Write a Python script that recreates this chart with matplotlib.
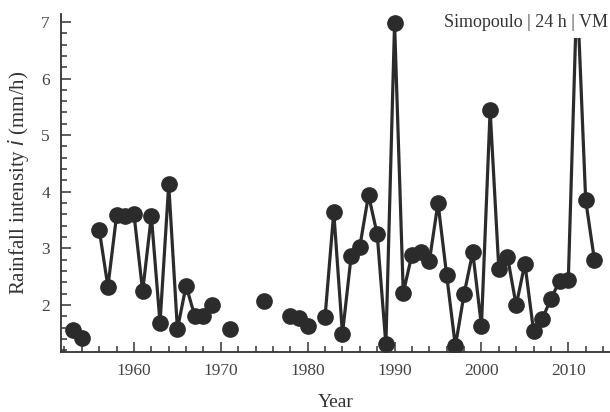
import matplotlib
matplotlib.use("Agg")
import matplotlib.pyplot as plt
import numpy as np

plt.rcParams['font.family'] = ['Liberation Serif', 'DejaVu Serif']

# annual maximum 24 h rainfall intensity, NaN = missing year
years = np.arange(1953, 2014)
intensity = [
    1.55, 1.42, np.nan, 3.33, 2.32, 3.58, 3.57, 3.60, 2.24, 3.57,   # 1953-1962
    1.68, 4.13, 1.57, 2.34, 1.80, 1.80, 1.99, np.nan, 1.57, np.nan,  # 1963-1972
    np.nan, np.nan, 2.06, np.nan, np.nan, 1.81, 1.76, 1.62, np.nan, 1.79,  # 1973-1982
    3.64, 1.49, 2.86, 3.03, 3.94, 3.25, 1.30, 6.98, 2.21, 2.89,     # 1983-1992
    2.94, 2.77, 3.80, 2.52, 1.27, 2.19, 2.93, 1.63, 5.44, 2.64,     # 1993-2002
    2.85, 1.99, 2.73, 1.54, 1.75, 2.11, 2.42, 2.44, 7.60, 3.85,     # 2003-2012
    2.80,                                                           # 2013
]
label = "Simopoulo | 24 h | VM"

fig = plt.figure(figsize=(6.1, 4.12), dpi=100)
ax = fig.add_axes([0.1, 0.146, 0.9, 0.82])

ax.plot(years, intensity, '-o', color='#2b2b2b', lw=2.3, ms=11,
        clip_on=True, zorder=2)

ax.set_xlim(1951.6, 2014.8)
ax.set_ylim(1.17, 7.14)
ax.set_xticks([1960, 1970, 1980, 1990, 2000, 2010])
ax.set_xticks(np.arange(1952, 2015, 2), minor=True)
ax.set_yticks([2, 3, 4, 5, 6, 7])
ax.set_yticks(np.arange(1.2, 7.15, 0.2), minor=True)

for s in ['top', 'right']:
    ax.spines[s].set_visible(False)
for s in ['left', 'bottom']:
    ax.spines[s].set_color('#333333')
    ax.spines[s].set_linewidth(1.3)

ax.tick_params(which='both', direction='in', color='#333333', width=1.1,
               labelsize=12.5, labelcolor='#444444', pad=8)
ax.tick_params(which='major', length=7)
ax.tick_params(which='minor', length=4)

ax.set_xlabel("Year", fontsize=14, color='#333333', labelpad=11)
ax.set_ylabel("Rainfall intensity $\\mathit{i}$ (mm/h)", fontsize=15,
              color='#333333', labelpad=7)

ax.text(0.997, 0.975, label, transform=ax.transAxes, ha='right', va='center',
        fontsize=13, color='#333333', zorder=5,
        bbox=dict(facecolor='white', edgecolor='none', pad=5))

fig.savefig("out.png", dpi=100)
